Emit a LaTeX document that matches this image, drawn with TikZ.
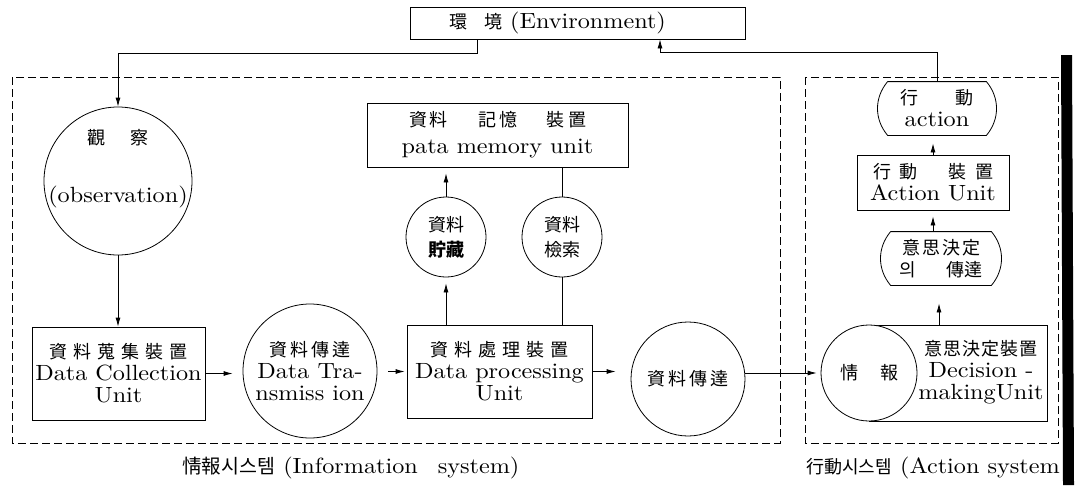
\documentclass[tikz,border=0pt]{standalone}
\usepackage{fontspec}
\newfontfamily\cjk{Noto Sans CJK KR}
\newfontfamily\latf{lmroman10-regular.otf}[FakeStretch=1.1]
\usetikzlibrary{arrows.meta}

% Latin text and CJK text sizes
\newcommand\lat{\latf\fontsize{22}{22}\selectfont}
\newcommand\cj{\cjk\fontsize{18}{22}\selectfont}
\newcommand\cjs{\cjk\fontsize{18}{25}\selectfont}

% letter-spaced CJK: \sj{gap}{characters}
\newlength\sjgap
\newcommand\sj[2]{\sjgap=#1\relax\sjA#2\relax}
\def\sjA#1{#1\sjB}
\def\sjB#1{\ifx\relax#1\else\hskip\sjgap\relax#1\expandafter\sjB\fi}

\begin{document}
\begin{tikzpicture}[x=1pt,y=-1pt,
  line width=0.8pt,
  every node/.style={font=\lat, inner sep=0pt, align=center},
  box/.style={draw},
  circ/.style={draw, circle},
  arr/.style={-{Latex[length=9pt,width=5pt]}},
  dashbox/.style={dash pattern=on 8pt off 4pt, line width=0.7pt},
]
\useasboundingbox (0,0) rectangle (1083,485);

% system borders
\draw[dashbox] (12,77) rectangle (780,443);
\draw[dashbox] (805,77) rectangle (1058,443);

% environment
\node[box, minimum width=335pt, minimum height=32pt] (env) at (577.5,23)
  {{\cj 環}\hspace{17pt}{\cj 境} (Environment)\hspace{40pt}};

% information system
\node[circ, minimum size=148pt] (obs) at (118,181) {};
\node (obstext) at (118,169)
  {{\cj 觀\hspace{26pt}察}\\[36pt](observation)};
\node[box, minimum width=173pt, minimum height=93pt] (dc) at (118.5,373.5)
  {{\cj\sj{6pt}{資料蒐集裝置}}\\Data Collection\\Unit};
\node[circ, minimum size=134pt] (dt) at (310,371) {};
\node (dttext) at (310,371)
  {{\cj\sj{3pt}{資料傳達}}\\Data Tra-\\nsmiss ion};
\node[box, minimum width=185pt, minimum height=93pt] (dp) at (499.5,371.5)
  {{\cj\sj{6pt}{資料處理裝置}}\\Data processing\\Unit};
\node[circ, minimum size=114pt] (ct) at (688,379)
  {{\cj\sj{3pt}{資料傳達}}};
\node[box, minimum width=261pt, minimum height=64pt] (mem) at (497.5,135)
  {{\cj 資\hspace{3pt}料\hspace{30pt}記\hspace{3pt}憶\hspace{30pt}裝\hspace{3pt}置}\\[5pt]pata memory\hspace{8pt}unit};
\node[circ, minimum size=80pt, font=\cjs] (sto) at (446,237)
  {資料\\\textbf{貯藏}};
\node[circ, minimum size=80pt, font=\cjs] (ret) at (562,237)
  {資料\\檢索};

% action system
\coordinate (dmNW) at (869,325);
\coordinate (dmSE) at (1047,421);
\draw (dmNW) rectangle (dmSE);
\node (dm) at (981,372)
  {{\cj\sj{1pt}{意思決定裝置}}\\Decision -\\makingUnit};
\node[circ, fill=white, minimum size=96pt] (jo) at (869,373)
  {{\cj 情\hspace{22pt}報}};
\coordinate (dmtop) at (939,325);

\node[minimum width=100pt, minimum height=53pt] (ishi) at (941,258.5)
  {{\cj\sj{2pt}{意思決定}}\\{\cj 의\hspace{30pt}傳達}};
\node[box, minimum width=152pt, minimum height=55pt] (au) at (933,182.5)
  {{\cj 行\hspace{9pt}動\hspace{30pt}裝\hspace{9pt}置}\\Action Unit};
\node[minimum width=98pt, minimum height=53pt] (act) at (937,108.5)
  {{\cj 行\hspace{37pt}動}\\action};

% bulging outlines
\draw (act.north west) -- (act.north east) to[bend left=40] (act.south east)
  -- (act.south west) to[bend left=40] (act.north west);
\draw (ishi.north west) -- (ishi.north east) to[bend left=40] (ishi.south east)
  -- (ishi.south west) to[bend left=40] (ishi.north west);

% connectors
\draw[arr] ([xshift=-100.5pt]env.south) -- ++(0,14) -| (obs.north);
\draw[arr] (act.north) -- ++(0,-29) -| ([xshift=82.5pt]env.south);
\draw[arr] (obs.south) -- (obs.south |- dc.north);
\draw[arr, shorten >=10pt] (dc.east) -- (dc.east -| dt.west);
\draw[arr, shorten <=11pt, shorten >=2pt] (dt.east |- dp.west) -- (dp.west);
\draw[arr, shorten >=15pt] (dp.east) -- (dp.east -| ct.west);
\draw[arr, shorten >=4pt] (jo.west -| ct.east) -- (jo.west);
\draw[arr, shorten >=6pt] (sto.south |- dp.north) -- (sto.south);
\draw[arr, shorten >=6pt] (sto.north) -- (sto.north |- mem.south);
\draw (ret.north |- mem.south) -- (ret.north);
\draw (ret.south) -- (ret.south |- dp.north);
\draw[arr, shorten >=18pt] (dmtop) -- (dmtop |- ishi.south);
\draw[arr, shorten >=6pt] (ishi.north -| au.north) -- (au.south);
\draw[arr, shorten >=8pt] (au.north) -- (au.north |- act.south);

% captions
\node[anchor=west] (infolabel) at (182,468)
  {{\cjk\fontsize{19.5}{22}\selectfont 情報시스템} (Information\hspace{20pt}system)};
\node[anchor=west] (actlabel) at (806,468)
  {{\cj 行動시스템} (Action system};

% dark edge at the right
\fill (1061,55) -- (1072,55) -- (1074,485) -- (1063,485) -- cycle;
\end{tikzpicture}
\end{document}
